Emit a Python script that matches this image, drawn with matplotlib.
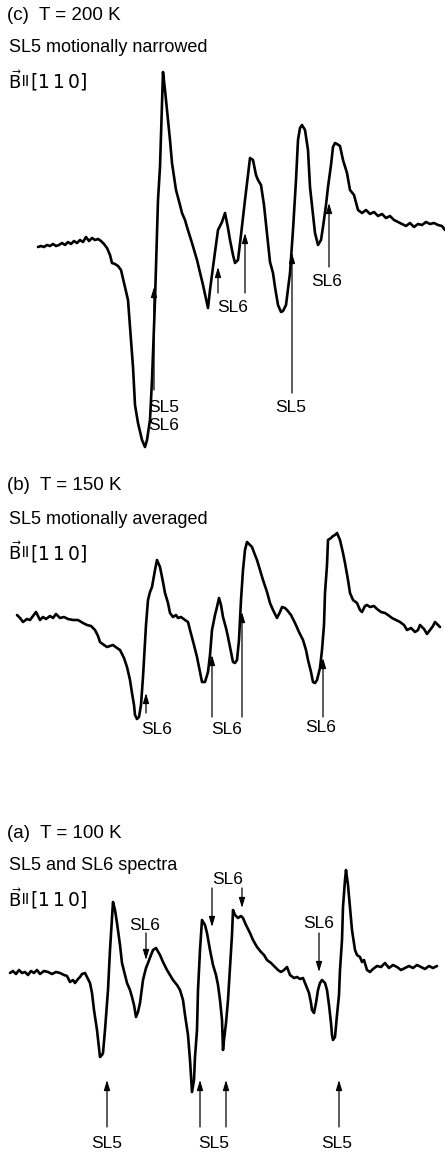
import matplotlib
matplotlib.use('Agg')
import matplotlib.pyplot as plt

plt.rcParams['font.family'] = ['Liberation Sans', 'DejaVu Sans']

# panel (c) T = 200 K : (field, signal) pairs
trace_c = [(38, 247), (41, 246), (44, 247), (47, 245), (50, 246), (53, 244), (56, 246), (59, 245),
           (62, 243), (65, 245), (68, 242), (71, 244), (74, 241), (77, 243), (80, 240), (83, 242),
           (86, 237), (89, 241), (92, 238), (95, 240), (98, 239), (101, 241), (104, 244), (107, 248),
           (110, 255), (112, 263), (115, 264), (118, 266), (121, 270), (125, 287), (128, 300),
           (131, 340), (133, 367), (135, 405), (138, 423), (142, 440), (145, 447), (147, 440),
           (150, 420), (152, 380), (155, 300), (158, 200), (160, 167), (163, 72), (165, 90),
           (167, 110), (170, 140), (172, 163), (176, 190), (180, 205), (182, 213), (185, 220),
           (187, 227), (192, 243), (197, 260), (203, 285), (208, 308), (210, 290), (213, 267),
           (216, 245), (218, 230), (222, 222), (225, 213), (228, 228), (230, 240), (233, 255),
           (235, 263), (238, 260), (241, 235), (245, 200), (248, 175), (250, 158), (253, 160),
           (256, 175), (258, 180), (261, 185), (264, 205), (267, 233), (270, 262), (273, 273),
           (275, 287), (278, 305), (281, 312), (283, 311), (286, 305), (290, 273), (293, 230),
           (296, 180), (298, 140), (300, 128), (302, 125), (305, 130), (308, 150), (310, 187),
           (313, 215), (315, 233), (318, 245), (321, 240), (323, 227), (326, 205), (328, 187),
           (331, 165), (333, 147), (335, 143), (337, 144), (340, 146), (343, 160), (347, 173),
           (350, 190), (354, 195), (358, 210), (362, 213), (366, 210), (370, 214), (374, 212),
           (378, 216), (382, 214), (386, 218), (390, 216), (394, 220), (398, 222), (402, 224),
           (406, 226), (410, 223), (414, 227), (418, 224), (422, 225), (426, 222), (430, 224),
           (434, 223), (438, 225), (442, 226), (445, 230)]

# panel (b) T = 150 K
trace_b = [(17, 615), (20, 618), (23, 622), (27, 619), (30, 620), (33, 616), (36, 612), (40, 620),
           (43, 617), (46, 619), (50, 616), (53, 618), (56, 614), (60, 618), (64, 617), (68, 619),
           (73, 620), (78, 620), (83, 623), (87, 625), (91, 626), (95, 630), (98, 636), (100, 642),
           (104, 645), (107, 647), (110, 646), (113, 645), (117, 648), (120, 650), (124, 658),
           (127, 667), (130, 680), (132, 693), (134, 705), (135, 715), (137, 719), (139, 717),
           (141, 705), (143, 677), (146, 625), (148, 600), (150, 592), (152, 587), (155, 570),
           (157, 560), (160, 567), (163, 582), (165, 593), (168, 603), (170, 613), (173, 617),
           (176, 615), (178, 618), (181, 617), (185, 620), (188, 622), (190, 630), (194, 645),
           (197, 657), (200, 672), (202, 682), (205, 682), (208, 672), (210, 655), (212, 630),
           (215, 615), (217, 607), (219, 598), (221, 605), (223, 617), (226, 628), (228, 637),
           (231, 652), (233, 662), (235, 663), (237, 660), (239, 640), (241, 600), (243, 570),
           (245, 550), (247, 542), (250, 545), (252, 547), (255, 555), (257, 560), (260, 570),
           (263, 580), (267, 592), (270, 603), (273, 610), (277, 618), (280, 612), (282, 607),
           (285, 608), (287, 610), (291, 615), (295, 623), (299, 632), (303, 640), (306, 650),
           (308, 660), (311, 672), (313, 682), (315, 683), (317, 680), (320, 668), (322, 650),
           (324, 625), (325, 593), (327, 565), (328, 540), (331, 538), (333, 536), (335, 535),
           (337, 533), (340, 540), (343, 553), (345, 563), (348, 580), (350, 593), (353, 600),
           (357, 603), (360, 610), (362, 612), (365, 606), (367, 605), (370, 607), (374, 606),
           (377, 609), (381, 612), (385, 613), (388, 615), (392, 618), (396, 620), (400, 622),
           (404, 625), (407, 630), (411, 628), (415, 632), (418, 630), (420, 625), (424, 629),
           (427, 634), (430, 630), (433, 626), (435, 622), (438, 625), (440, 627)]

# panel (a) T = 100 K
trace_a = [(10, 973), (13, 971), (16, 974), (19, 970), (22, 973), (25, 972), (28, 975), (31, 971),
           (34, 973), (37, 970), (40, 974), (44, 971), (48, 972), (52, 974), (56, 972), (60, 973),
           (64, 975), (67, 976), (70, 982), (73, 980), (75, 983), (78, 979), (80, 977), (82, 974),
           (85, 973), (87, 977), (90, 983), (92, 993), (94, 1010), (97, 1030), (99, 1048),
           (100, 1057), (102, 1055), (103, 1053), (105, 1030), (108, 990), (110, 950), (113, 902),
           (115, 910), (117, 923), (120, 945), (122, 963), (125, 975), (127, 983), (130, 990),
           (132, 997), (134, 1005), (136, 1017), (138, 1012), (140, 1003), (143, 980), (146, 968),
           (148, 963), (151, 955), (153, 950), (156, 948), (160, 955), (163, 962), (167, 970),
           (170, 975), (173, 980), (177, 985), (180, 990), (183, 1000), (185, 1015), (188, 1035),
           (190, 1060), (192, 1092), (194, 1080), (195, 1057), (197, 1030), (198, 990), (200, 950),
           (202, 920), (205, 925), (207, 933), (210, 950), (213, 965), (216, 975), (218, 985),
           (220, 1000), (222, 1020), (223, 1050), (224, 1040), (226, 1023), (228, 1000), (230, 967),
           (232, 935), (233, 910), (235, 915), (238, 918), (241, 916), (243, 918), (246, 925),
           (250, 933), (253, 940), (257, 947), (261, 952), (264, 955), (267, 960), (271, 963),
           (275, 967), (278, 970), (281, 972), (284, 970), (287, 967), (290, 975), (294, 978),
           (297, 977), (300, 979), (303, 978), (305, 983), (307, 988), (309, 993), (311, 1003),
           (312, 1010), (314, 1013), (316, 1003), (318, 990), (320, 983), (322, 980), (325, 983),
           (327, 990), (329, 1005), (331, 1023), (332, 1035), (333, 1040), (335, 1037), (337, 1015),
           (339, 995), (340, 970), (342, 940), (343, 907), (345, 880), (346, 870), (348, 885),
           (350, 907), (352, 930), (355, 950), (357, 955), (360, 957), (362, 962), (364, 960),
           (367, 970), (370, 972), (373, 969), (377, 966), (381, 967), (385, 963), (389, 968),
           (393, 965), (397, 967), (401, 970), (405, 968), (409, 966), (413, 968), (417, 965),
           (421, 967), (425, 969), (429, 966), (433, 968), (437, 966)]

# arrows: (x, tail, tip)
c_arrows = [(154, 390, 287), (218, 293, 267), (245, 293, 233), (292, 393, 253), (329, 267, 203)]
b_arrows = [(146, 713, 693), (212, 717, 655), (242, 717, 612), (323, 717, 658)]
a_up = [(107, 1127, 1080), (200, 1127, 1080), (226, 1127, 1080), (339, 1127, 1080)]
a_down = [(146, 933, 960), (212, 888, 927), (242, 888, 908), (319, 933, 972)]

labels = [(148, 407, 'SL5', 'left'), (148, 426, 'SL6', 'left'), (233, 307, 'SL6', 'center'),
          (291, 408, 'SL5', 'center'), (327, 281, 'SL6', 'center'),
          (157, 729, 'SL6', 'center'), (227, 729, 'SL6', 'center'), (321, 727, 'SL6', 'center'),
          (145, 925, 'SL6', 'center'), (228, 879, 'SL6', 'center'), (319, 923, 'SL6', 'center'),
          (107, 1144, 'SL5', 'center'), (214, 1144, 'SL5', 'center'), (337, 1144, 'SL5', 'center')]

titles = [(15, '(c)  T = 200 K', 47, 'SL5 motionally narrowed', 82),
          (486, '(b)  T = 150 K', 520, 'SL5 motionally averaged', 553),
          (833, '(a)  T = 100 K', 866, 'SL5 and SL6 spectra', 900)]

fig = plt.figure(figsize=(4.45, 11.54), dpi=100)
ax = fig.add_axes([0, 0, 1, 1])
ax.set_xlim(0, 445)
ax.set_ylim(1154, 0)
ax.axis('off')

for trace in [trace_c, trace_b, trace_a]:
    xs, ys = zip(*trace)
    ax.plot(xs, ys, color='black', lw=1.9, solid_joinstyle='round', solid_capstyle='round')

for x, tail, tip in c_arrows + b_arrows + a_up + a_down:
    ax.annotate('', xy=(x, tip), xytext=(x, tail),
                arrowprops=dict(arrowstyle='-|>,head_length=0.6,head_width=0.18', lw=0.9,
                                color='black', shrinkA=0, shrinkB=0))

for x, y, s, ha in labels:
    ax.text(x, y, s, fontsize=12.5, ha=ha, va='center')

for y1, t1, y2, t2, y3 in titles:
    ax.text(7, y1, t1, fontsize=13.5, va='center')
    ax.text(9, y2, t2, fontsize=13, va='center')
    ax.text(8, y3, r'$\vec{\mathsf{B}}$', fontsize=13, va='center')
    ax.text(22, y3, 'll', fontsize=11, va='center')
    ax.text(30, y3, r'$\left[\mathsf{1\,1\,0}\right]$', fontsize=13.5, va='center')

fig.savefig('out.png', dpi=100)
